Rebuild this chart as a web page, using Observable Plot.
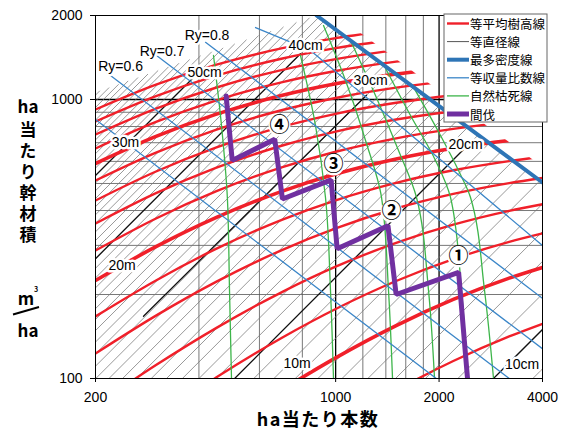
<!DOCTYPE html>
<html><head><meta charset="utf-8">
<script src="https://cdn.jsdelivr.net/npm/d3@7"></script>
<script src="https://cdn.jsdelivr.net/npm/@observablehq/plot@0.6"></script>
<style>body{margin:0;background:#fff} svg{display:block}</style>
</head><body><div id="chart"></div>
<script>
// ---- axes / grid ----
const xTicks = [200, 1000, 2000, 4000];
const yTicks = [100, 1000, 2000];
const gridNMinor = [400, 600, 800, 1200, 1400, 1600, 1800];
const gridNMajor = [1000, 2000];
const gridVMinor = [200, 300, 400, 500, 600, 700, 800, 900];
const gridVMajor = [1000];

// ---- 等直径線 (cm): N at V=100, and upper end (on max-density line / upper limit) ----
const diamD = [9,10,11,12,13,14,15,16,17,18,19,20,21,22,23,24,25,26,27,28,29,30,31,32,33,34,35,36,37,38,39,40,41,42,43,44,45,46,47,48,49,50,51,52,53,54,55,56,57,58,59,60,61,62];
const diamNlow = [3750,2880,2269,1825,1494,1241,1044,888,763,661.4,577.8,508.1,449.6,400.2,358.1,321.9,290.6,263.5,239.8,218.9,200.4,184.1,169.6,156.6,145.0,134.6,125.2,116.7,108.9,101.9,95.5,89.6,84.25,79.3,74.8,70.6,66.7,63.2,59.8,56.8,53.9,51.3,48.8,46.5,44.3,42.3,40.4,38.6,36.9,35.4,33.9,32.5,31.2,29.9];
const diamVlow = 100;
const diamNtop = [8240,7076,6170,5441,4849,4357,3945,3594,3293,3033,2805,2605,2428,2271,2130,2002,1888,1784,1690,1604,1525,1452,1385,1323,1265,1212,1163,1116,1073,1032,994.5,958.6,925.1,893.8,838.3,767.5,703.9,647.1,595.6,549.3,507.5,469.5,435.1,403.9,375.3,349.4,325.6,303.8,283.8,265.4,248.5,233.1,218.7,205.5];
const diamVtop = [264,302.6,342.5,383.8,426.1,469.4,513.5,558.8,604.9,651.8,699.4,747.9,797,847.4,898,949,1001,1054,1107,1161,1215,1270,1326,1382,1439,1496,1554,1612,1671,1730,1789,1850,1911,1972,1959,1886,1817,1753,1692,1634,1579,1528,1479,1432,1388,1346,1306,1268,1231,1196,1163,1131,1101,1072];

// dark (labelled) diameter lines
const darkD  = [10, 20, 30, 40, 50];
const darkN0 = [2880, 508.1, 275.9, 200, 200];
const darkV0 = [100, 100, 167.2, 268.8, 534.1];
const darkN1 = [7076, 2387, 1229.7, 790, 398.9];
const darkV1 = [302.6, 673, 1036, 1459.5, 1249.6];

// ---- 等平均樹高線 (m) ----
const heightH = [8,10,12,14,16,18,20,22,24,26,28,30,32,34,36,38];
const nFull = [200,300,450,700,1000,1500,2200,3200,4000];
const heightN = [
  [1000,1500,2200,3200,4000],
  [450,700,1000,1500,2200,3200,4000],
  [300,450,700,1000,1500,2200,3200,4000],
  nFull, nFull, nFull, nFull, nFull, nFull, nFull, nFull,
  [200,300,450,700,1000,1500,2200],
  [200,300,450,700,1000,1500,2200],
  [200,300,450,700,1000,1500,2200],
  [200,300,450,700,1000,1500],
  [200,300,450,700,1000,1500]
];
const heightV = [
  [67.7,90.7,115.5,141.5,157.1],
  [63.9,91.2,118.6,154.8,192,228.9,250],
  [72.6,101.1,140.3,177.5,223.6,267.9,308.9,331.2],
  [79.9,111.7,151.9,204.5,251.6,306.4,355.8,398.8,421.2],
  [122.9,168,222.4,289.3,345.4,406.8,458.6,501.4,522.9],
  [166.9,224.6,291.9,371.3,435.3,502.6,557.5,601.5,623.1],
  [224.5,296.8,377.9,469.6,540.4,612.2,668.7,712.8,734.1],
  [287.5,374.5,469.1,572.4,649.7,725.9,784.4,829.3,850.6],
  [359.3,461.6,569.6,684.1,767.3,847.5,907.9,953.4,974.9],
  [434.5,552,673.4,798.9,888.3,973,1035.9,1082.7,1104.7],
  [512.5,645.3,780.1,916.9,1012.8,1102.4,1168.3,1216.9,1239.6],
  [589.5,737.6,886,1034.7,1137.8,1233.4,1303],
  [667.3,830.8,993,1154,1264.7,1366.6,1440.5],
  [749.2,928.2,1104.2,1277.1,1395,1503,1580.9],
  [834,1028.5,1217.9,1402.2,1527.1,1640.7],
  [920.7,1130.3,1332.5,1527.8,1659,1777.8]
];
// upper limit of the height lines
const redEdgeN = [200, 200, 880, 1008, 4000, 4000];
const redEdgeV = [100, 1059, 2000, 2000, 574, 100];

// ---- 等収量比数線 ----
const ryValues = [0.5, 0.6, 0.7, 0.8, 0.9];
const ryN = [[200,1963],[213.9,3201],[299.1,4000],[418.1,4000],[584.6,845.1,4000]];
const ryV = [[847.8,100],[1258,100],[1447.4,127.8],[1602.9,193.7],[1811,1498.6,299.7]];

// ---- 最多密度線 ----
const maxDensN = [880, 4000];
const maxDensV = [2000, 504];

// ---- 自然枯死線 ----
const mortN = [
  [441,465.3,484.4,491,497.6],
  [790,873.6,934.2,966.1,985.7],
  [921.8,1068.3,1221.7,1359.9,1425.2,1464],
  [1104.7,1306.2,1524,1719.4,1863.5,1940],
  [1369.1,1651.6,1953,2159.4,2324.7,2420],
  [1673.9,2019.2,2278.2,2469.3,2712.3,2880.5]
];
const mortV = [
  [1438,806.8,434.5,206.8,100],
  [1438,806.8,445.5,206.8,100],
  [1841.6,1169.6,712.9,445.5,206.8,100],
  [1627.4,1033.5,656.5,445.5,206.8,100],
  [1357.3,876.1,604.4,445.5,206.8,100],
  [1122.2,742.9,556.5,445.5,206.8,100]
];

// ---- 間伐 ----
const thinN = [480, 500, 665, 700, 970, 1010, 1420, 1500, 2280, 2420];
const thinV = [1030, 605, 720, 440, 515, 292, 353, 200, 240, 100];

// ---- labels ----
const diamLabelText = ["50cm","40cm","30cm","20cm","10cm"];
const diamLabelN = [415.3, 817.2, 1263.4, 2387.4, 3487];
const diamLabelV = [1249.6, 1561, 1169.6, 686.9, 112.2];
const heightLabelText = ["30m","20m","10m"];
const heightLabelN = [244.5, 238.9, 771.8];
const heightLabelV = [701.2, 254.1, 112.7];
const ryLabelText = ["Ry=0.6","Ry=0.7","Ry=0.8"];
const ryLabelN = [236.6, 312.4, 422.3];
const ryLabelV = [1307.8, 1480.2, 1688.9];
const stepLabelText = ["④","③","②","①"];
const stepLabelN = [686.4, 985.7, 1454.2, 2278];
const stepLabelV = [806.8, 584.8, 396.7, 273.7];

const legendText = ["等平均樹高線","等直径線","最多密度線","等収量比数線","自然枯死線","間伐"];

// ---- tables ----
const diamRows = diamD.flatMap((d,i)=>[{d,n:diamNlow[i],v:diamVlow},{d,n:diamNtop[i],v:diamVtop[i]}]);
const darkRows = darkD.flatMap((d,i)=>[{d,n:darkN0[i],v:darkV0[i]},{d,n:darkN1[i],v:darkV1[i]}]);
const heightRows = heightH.flatMap((h,i)=>heightN[i].map((n,j)=>({h,n,v:heightV[i][j]})));
const ryRows = ryValues.flatMap((r,i)=>ryN[i].map((n,j)=>({r,n,v:ryV[i][j]})));
const maxRows = maxDensN.map((n,i)=>({n,v:maxDensV[i]}));
const mortRows = mortN.flatMap((ns,i)=>ns.map((n,j)=>({g:i,n,v:mortV[i][j]})));
const thinRows = thinN.map((n,i)=>({n,v:thinV[i]}));
const lab = (t,N,V)=>t.map((s,i)=>({s,n:N[i],v:V[i]}));

const RED = "#f0202a";
const BLUE = "#2e75b6";
const LBLUE = "#3b86c8";
const GREEN = "#3db54a";
const PURPLE = "#7030a0";
const SANS = "Liberation Sans, Arial, sans-serif";
const CJK = "Noto Sans CJK JP, sans-serif";

const chart = Plot.plot({
  width: 561, height: 432,
  marginLeft: 95, marginRight: 19, marginTop: 15, marginBottom: 54,
  style: {fontFamily: SANS, fontSize: "14px", background: "white", color: "black"},
  x: {type: "log", domain: [200, 4000], ticks: xTicks, tickFormat: d => String(d), tickSize: 4, tickPadding: 10, label: null},
  y: {type: "log", domain: [100, 2000], ticks: yTicks, tickFormat: d => String(d), tickSize: 5, tickPadding: 8, label: null},
  marks: [
    Plot.ruleX(gridNMinor, {x: d => d, stroke: "#555", strokeWidth: 0.8}),
    Plot.ruleX(gridNMajor, {x: d => d, stroke: "#000", strokeWidth: 1.3}),
    Plot.ruleY(gridVMinor, {y: d => d, stroke: "#555", strokeWidth: 0.8}),
    Plot.ruleY(gridVMajor, {y: d => d, stroke: "#000", strokeWidth: 1.3}),
    Plot.line(diamRows, {x: "n", y: "v", z: "d", stroke: "#777", strokeWidth: 0.75, clip: true}),
    Plot.line(darkRows, {x: "n", y: "v", z: "d", stroke: "#111", strokeWidth: 1.3, clip: true}),
    Plot.line(heightRows.filter(r => r.h % 10 !== 0), {x: "n", y: "v", z: "h", stroke: RED, strokeWidth: 2.4, curve: "monotone-x", ariaDescription: "height-lines"}),
    Plot.line(heightRows.filter(r => r.h % 10 === 0), {x: "n", y: "v", z: "h", stroke: RED, strokeWidth: 3.6, curve: "monotone-x", ariaDescription: "height-lines"}),
    Plot.line(mortRows, {x: "n", y: "v", z: "g", stroke: GREEN, strokeWidth: 1.3, curve: "monotone-y", clip: true}),
    Plot.line(ryRows, {x: "n", y: "v", z: "r", stroke: LBLUE, strokeWidth: 1.3, clip: true}),
    Plot.line(maxRows, {x: "n", y: "v", stroke: BLUE, strokeWidth: 4, clip: true}),
    Plot.line(thinRows, {x: "n", y: "v", stroke: PURPLE, strokeWidth: 5, strokeLinejoin: "miter", clip: true}),
    Plot.frame({stroke: "#000"}),
    Plot.text(lab(diamLabelText, diamLabelN, diamLabelV), {x: "n", y: "v", text: "s", fontSize: 14, fontFamily: SANS, fill: "black", stroke: "white", strokeWidth: 5}),
    Plot.text(lab(heightLabelText, heightLabelN, heightLabelV), {x: "n", y: "v", text: "s", fontSize: 14, fontFamily: SANS, fill: "black", stroke: "white", strokeWidth: 5}),
    Plot.text(lab(ryLabelText, ryLabelN, ryLabelV), {x: "n", y: "v", text: "s", fontSize: 14, fontFamily: SANS, fill: "black", stroke: "white", strokeWidth: 5}),
    Plot.dot(lab(stepLabelText, stepLabelN, stepLabelV), {x: "n", y: "v", r: 11, fill: "white", stroke: "none"}),
    Plot.text(lab(stepLabelText, stepLabelN, stepLabelV), {x: "n", y: "v", text: "s", fontSize: 20, fontFamily: CJK, fontWeight: "bold", fill: "black"})
  ]
});
document.getElementById("chart").appendChild(chart);

const svg = d3.select(chart);
svg.selectAll('g[aria-label^="x-axis"], g[aria-label^="y-axis"]').attr("font-size", 14).attr("font-family", SANS);
svg.selectAll('g[aria-label^="x-axis"] text, g[aria-label^="y-axis"] text').attr("font-size", 14);

// clip the height lines to their drawn range
const sx = chart.scale("x"), sy = chart.scale("y");
const fx = sx && sx.apply ? v => sx.apply(v) : d3.scaleLog().domain([200,4000]).range([95,542]);
const fy = sy && sy.apply ? v => sy.apply(v) : d3.scaleLog().domain([100,2000]).range([378,15]);
const pts = redEdgeN.map((n,i) => `${fx(n)},${fy(redEdgeV[i])}`).join(" ");
svg.append("defs").append("clipPath").attr("id","hclip").append("polygon").attr("points", pts);
svg.selectAll('g[aria-description="height-lines"]').attr("clip-path","url(#hclip)");

// legend
const lg = svg.append("g").attr("text-anchor","start");
lg.append("rect").attr("x",444).attr("y",14).attr("width",103).attr("height",108).attr("fill","white").attr("stroke","#666").attr("stroke-width",1);
const legStroke = [RED, "#555", BLUE, LBLUE, GREEN, PURPLE];
const legWidth = [2.4, 1, 4, 1.3, 1.3, 5];
legendText.forEach((t,i) => {
  const y = 23.5 + i*18.1;
  lg.append("line").attr("x1",447).attr("x2",469).attr("y1",y).attr("y2",y).attr("stroke",legStroke[i]).attr("stroke-width",legWidth[i]);
  lg.append("text").attr("x",470).attr("y",y).attr("text-anchor","start").attr("dominant-baseline","central")
    .attr("font-family",CJK).attr("font-size",12.5).attr("fill","#000").text(t);
});

// axis titles
svg.append("text").attr("x",318).attr("y",418).attr("text-anchor","middle").attr("dominant-baseline","central")
  .attr("font-family",CJK).attr("font-weight","bold").attr("font-size",18).attr("letter-spacing",1.5).attr("fill","#000").text("ha当たり本数");
svg.append("text").attr("x",28).attr("y",105).attr("text-anchor","middle").attr("dominant-baseline","central")
  .attr("font-family",CJK).attr("font-weight","bold").attr("font-size",17).attr("fill","#000").text("ha");
svg.append("text").attr("x",28).attr("y",121.5).attr("text-anchor","start")
  .style("writing-mode","vertical-rl").attr("letter-spacing",4)
  .attr("font-family",CJK).attr("font-weight","bold").attr("font-size",17).attr("fill","#000").text("当たり幹材積");
svg.append("text").attr("x",26).attr("y",297).attr("text-anchor","middle").attr("dominant-baseline","central")
  .attr("font-family",CJK).attr("font-weight","bold").attr("font-size",17).attr("fill","#000").text("m");
svg.append("text").attr("x",36).attr("y",289).attr("text-anchor","middle").attr("dominant-baseline","central")
  .attr("font-family",CJK).attr("font-weight","bold").attr("font-size",7).attr("fill","#000").text("3");
svg.append("line").attr("x1",13).attr("y1",314.5).attr("x2",39).attr("y2",307).attr("stroke","#000").attr("stroke-width",2);
svg.append("text").attr("x",28).attr("y",329).attr("text-anchor","middle").attr("dominant-baseline","central")
  .attr("font-family",CJK).attr("font-weight","bold").attr("font-size",17).attr("fill","#000").text("ha");
</script></body></html>
